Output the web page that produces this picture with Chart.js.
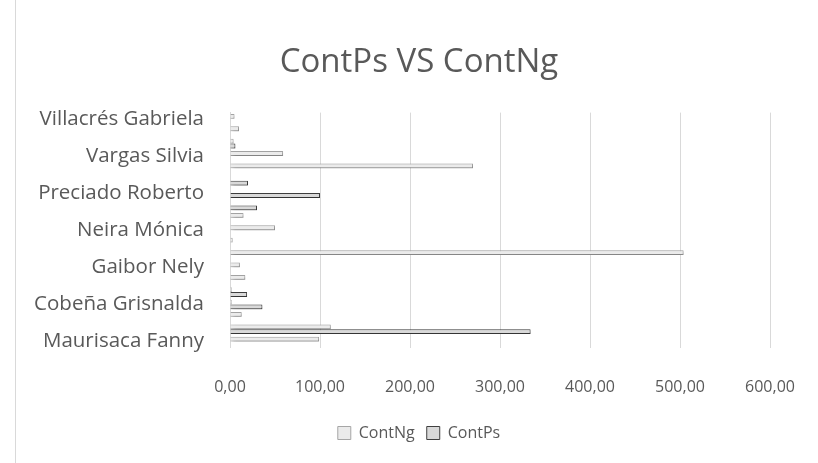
<!DOCTYPE html>
<html>
<head>
<meta charset="utf-8">
<script src="https://cdn.jsdelivr.net/npm/chart.js@4.4.0/dist/chart.umd.min.js"></script>
<style>
    html, body { margin: 0; padding: 0; background: #fff; }
    #wrap { position: relative; width: 818px; height: 463px; }
    #wrap::before {
        content: ""; position: absolute; left: 15px; top: 0; bottom: 0;
        border-left: 1px solid #d9d9d9;
    }
</style>
</head>
<body>
<div id="wrap"><canvas id="chart" width="818" height="463"></canvas></div>
<script>
// categories from the bottom of the chart upwards (only every third is labelled)
const categories = [
    "Maurisaca Fanny", "", "",
    "Cobeña Grisnalda", "", "",
    "Gaibor Nely", "", "",
    "Neira Mónica", "", "",
    "Preciado Roberto", "", "",
    "Vargas Silvia", "", "",
    "Villacrés Gabriela"
];
const contNg = [99, 112, 13, 2, 2, 17, 11, 504, 3, 50, 15, 0, 0, 0, 270, 59, 4, 10, 5];
const contPs = [0, 334, 0, 36, 19, 0, 0, 0, 0, 0, 0, 30, 100, 20, 0, 0, 6, 0, 0];
const xTicks = [0, 100, 200, 300, 400, 500, 600];

const textColor = "#595959";
const fontFamily = "'Open Sans', 'Liberation Sans', sans-serif";

// soft drop shadow like the Excel bar effect
const barShadow = {
    id: "barShadow",
    beforeDatasetsDraw(chart) {
        const ctx = chart.ctx;
        ctx.save();
        ctx.shadowColor = "rgba(0, 0, 0, 0.45)";
        ctx.shadowBlur = 4;
        ctx.shadowOffsetX = 2;
        ctx.shadowOffsetY = 3;
    },
    afterDatasetsDraw(chart) {
        chart.ctx.restore();
    },
};

new Chart(document.getElementById("chart").getContext("2d"), {
    type: "bar",
    data: {
        labels: categories,
        datasets: [
            {
                label: "ContNg",
                data: contNg,
                backgroundColor: "#ebebeb",
                borderColor: "#a6a6a6",
                borderWidth: 1,
                categoryPercentage: 0.78,
                barPercentage: 1,
            },
            {
                label: "ContPs",
                data: contPs,
                backgroundColor: "#d9d9d9",
                borderColor: "#404040",
                borderWidth: 1,
                categoryPercentage: 0.78,
                barPercentage: 1,
            },
        ],
    },
    options: {
        indexAxis: "y",
        responsive: false,
        animation: false,
        layout: { padding: { left: 20, right: 0, top: 10, bottom: 12 } },
        scales: {
            x: {
                min: 0,
                max: 600,
                afterBuildTicks: (axis) => {
                    axis.ticks = xTicks.map((v) => ({ value: v }));
                },
                afterFit: (axis) => {
                    axis.paddingRight = 48;
                    axis.height = axis.height - 14;
                },
                grid: { color: "#d9d9d9", drawTicks: false },
                border: { display: false },
                ticks: {
                    color: textColor,
                    font: { family: fontFamily, size: 16 },
                    padding: 30,
                    callback: (v) => v.toFixed(2).replace(".", ","),
                },
            },
            y: {
                reverse: true,
                afterFit: (axis) => {
                    axis.width = 210;
                },
                grid: { display: false, drawTicks: false },
                border: { color: "#d9d9d9" },
                ticks: {
                    autoSkip: false,
                    color: textColor,
                    font: { family: fontFamily, size: 20.5 },
                    padding: 26,
                    callback: function (value, index) {
                        return index % 3 === 0 ? categories[index] : "";
                    },
                },
            },
        },
        plugins: {
            title: {
                display: true,
                text: "ContPs VS ContNg",
                color: textColor,
                font: { family: fontFamily, size: 33, weight: "normal" },
                padding: { top: 33, bottom: 30 },
            },
            legend: {
                position: "bottom",
                labels: {
                    color: textColor,
                    font: { family: fontFamily, size: 16 },
                    boxWidth: 13,
                    boxHeight: 13,
                    padding: 12,
                },
            },
            tooltip: { enabled: false },
        },
    },
    plugins: [barShadow],
});
</script>
</body>
</html>
